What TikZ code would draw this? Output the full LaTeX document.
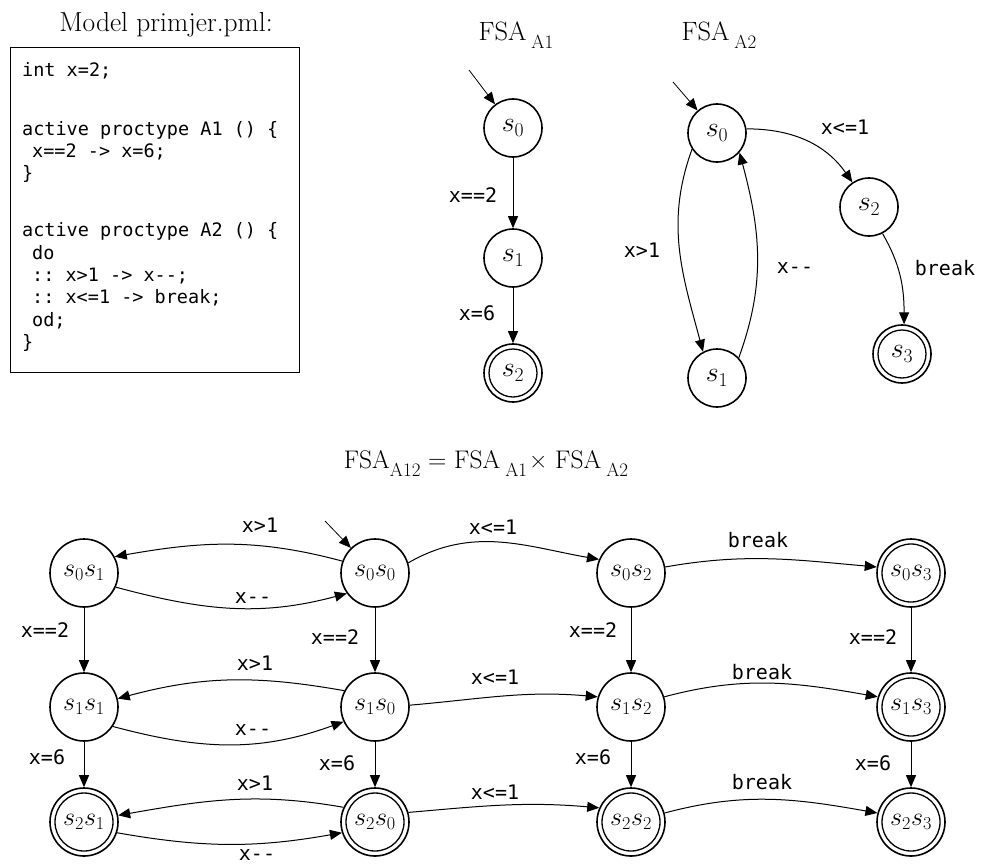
\RequirePackage{fix-cm}
\documentclass[tikz,border=0pt]{standalone}
\usepackage{fontspec}
\setmonofont{DejaVu Sans Mono}
\usetikzlibrary{arrows.meta}
\newcommand\mysub[1]{\raisebox{-8pt}{\fontsize{19}{19}\selectfont #1}}
\begin{document}
\begin{tikzpicture}[x=1pt,y=1pt,
  st/.style={circle, draw, line width=1.6pt, minimum size=58pt, inner sep=0pt, font=\fontsize{28}{28}\selectfont},
  pst/.style={st, minimum size=68pt, font=\fontsize{26}{26}\selectfont},
  acc/.style={path picture={\draw[line width=1.3pt] (path picture bounding box.center) circle[radius=#1];}},
  tr/.style={line width=1pt, -{Triangle[length=12pt,width=10pt]}},
  init/.style={line width=0.8pt, -{Triangle[length=12pt,width=10pt]}},
  lbl/.style={font=\ttfamily\fontsize{20}{20}\selectfont, inner sep=0pt},
  ttl/.style={font=\fontsize{26.5}{26.5}\selectfont, inner sep=0pt, anchor=base},
]
\useasboundingbox (0,0) rectangle (981,-864);

% ---------- code box ----------
\node[ttl, font=\fontsize{27.5}{27.5}\selectfont] (modeltitle) at (166,-32) {Model primjer.pml:};
\draw[line width=1pt] (10,-48) rectangle (299,-372);
\node[anchor=north west, inner sep=0pt, align=left, font=\ttfamily\fontsize{18.5}{22.3}\selectfont] (code) at (22,-62)
{int x=2;\\[36.7pt]
active proctype A1 () \{\\
\hspace*{10pt}x==2 -> x=6;\\
\}\\[34.7pt]
active proctype A2 () \{\\
\hspace*{10pt}do\\
\hspace*{10pt}:: x>1 -> x--;\\
\hspace*{10pt}:: x<=1 -> break;\\
\hspace*{10pt}od;\\
\}};

% ---------- FSA A1 ----------
\node[ttl] (t1) at (516,-41) {FSA\hspace{5pt}\mysub{A1}};
\node[st] (a1s0) at (513,-128) {$s_0$};
\node[st] (a1s1) at (513,-258) {$s_1$};
\node[st, acc=24pt] (a1s2) at (513,-373) {$s_2$};
\coordinate (i1) at (469,-70);
\draw[init] (i1) -- (a1s0);
\draw[tr] (a1s0) -- (a1s1);
\draw[tr] (a1s1) -- (a1s2);
\node[lbl] (l1a) at (473,-195) {x==2};
\node[lbl] (l1b) at (477,-313) {x=6};

% ---------- FSA A2 ----------
\node[ttl] (t2) at (719,-41) {FSA\hspace{5pt}\mysub{A2}};
\node[st] (a2s0) at (717,-133) {$s_0$};
\node[st] (a2s1) at (717,-378) {$s_1$};
\node[st] (a2s2) at (869,-207) {$s_2$};
\node[st, acc=24pt] (a2s3) at (902,-354) {$s_3$};
\coordinate (i2) at (673,-82);
\draw[init] (i2) -- (a2s0);
\draw[tr] (a2s0.8) to[out=0,in=125] (a2s2.124);
\draw[tr] (a2s2.-63) to[out=-60,in=90] (a2s3.86);
\draw[tr] (a2s0.213) to[out=250,in=105] (a2s1.118);
\draw[tr] (a2s1.43) to[out=70,in=-75] (a2s0.319);
\node[lbl] (l2a) at (845,-127) {x<=1};
\node[lbl] (l2b) at (945,-268) {break};
\node[lbl] (l2c) at (642,-250) {x>1};
\node[lbl] (l2d) at (795,-268) {x--};

% ---------- product title ----------
\node[ttl, font=\fontsize{25.5}{25.5}\selectfont] (t3) at (486,-468) {FSA\mysub{A12} = FSA\hspace{5pt}\mysub{A1}\hspace{2pt}× FSA\hspace{5pt}\mysub{A2}};

% ---------- product states ----------
\node[pst] (p01) at (84,-573) {$s_0s_1$};
\node[pst] (p00) at (375,-573) {$s_0s_0$};
\node[pst] (p02) at (631,-573) {$s_0s_2$};
\node[pst, acc=29pt] (p03) at (911,-573) {$s_0s_3$};
\node[pst] (p11) at (84,-707) {$s_1s_1$};
\node[pst] (p10) at (375,-707) {$s_1s_0$};
\node[pst] (p12) at (631,-707) {$s_1s_2$};
\node[pst, acc=29pt] (p13) at (911,-707) {$s_1s_3$};
\node[pst, acc=29pt] (p21) at (84,-822) {$s_2s_1$};
\node[pst, acc=29pt] (p20) at (375,-822) {$s_2s_0$};
\node[pst, acc=29pt] (p22) at (631,-822) {$s_2s_2$};
\node[pst, acc=29pt] (p23) at (911,-822) {$s_2s_3$};

\coordinate (i3) at (325,-521);
\draw[init] (i3) -- (p00);

% row 0
\draw[tr] (p00.160) to[out=165,in=10] (p01.28);
\draw[tr] (p01.-24) to[out=-15,in=195] (p00.216);
\draw[tr] (p00.17) to[out=30,in=170] (p02.157);
\draw[tr] (p02.10) to[out=10,in=175] (p03.170);
% row 1
\draw[tr] (p10.152) to[out=170,in=15] (p11.14);
\draw[tr] (p11.-34) to[out=-15,in=200] (p10.205);
\draw[tr] (p10.3) to[out=5,in=175] (p12.163);
\draw[tr] (p12.17) to[out=15,in=170] (p13.163);
% row 2
\draw[tr] (p20.155) to[out=170,in=10] (p21.11);
\draw[tr] (p21.-18) to[out=-10,in=190] (p20.198);
\draw[tr] (p20.16) to[out=5,in=175] (p22.156);
\draw[tr] (p22.15) to[out=15,in=170] (p23.165);
% verticals
\foreach \c in {0,1,2,3}{
  \draw[tr] (p0\c) -- (p1\c);
  \draw[tr] (p1\c) -- (p2\c);
}

% labels
\node[lbl] (q1) at (260,-525) {x>1};
\node[lbl] (q2) at (253,-598) {x--};
\node[lbl] (q3) at (493,-527) {x<=1};
\node[lbl] (q4) at (758,-540) {break};
\node[lbl] (q5) at (255,-663) {x>1};
\node[lbl] (q6) at (253,-730) {x--};
\node[lbl] (q7) at (495,-677) {x<=1};
\node[lbl] (q8) at (762,-672) {break};
\node[lbl] (q9) at (255,-783) {x>1};
\node[lbl] (q10) at (257,-855) {x--};
\node[lbl] (q11) at (495,-792) {x<=1};
\node[lbl] (q12) at (762,-782) {break};
\node[lbl] (v1) at (45,-630) {x==2};
\node[lbl] (v2) at (47,-757) {x=6};
\node[lbl] (v3) at (335,-637) {x==2};
\node[lbl] (v4) at (337,-763) {x=6};
\node[lbl] (v5) at (593,-630) {x==2};
\node[lbl] (v6) at (593,-757) {x=6};
\node[lbl] (v7) at (873,-637) {x==2};
\node[lbl] (v8) at (873,-763) {x=6};
\end{tikzpicture}
\end{document}
